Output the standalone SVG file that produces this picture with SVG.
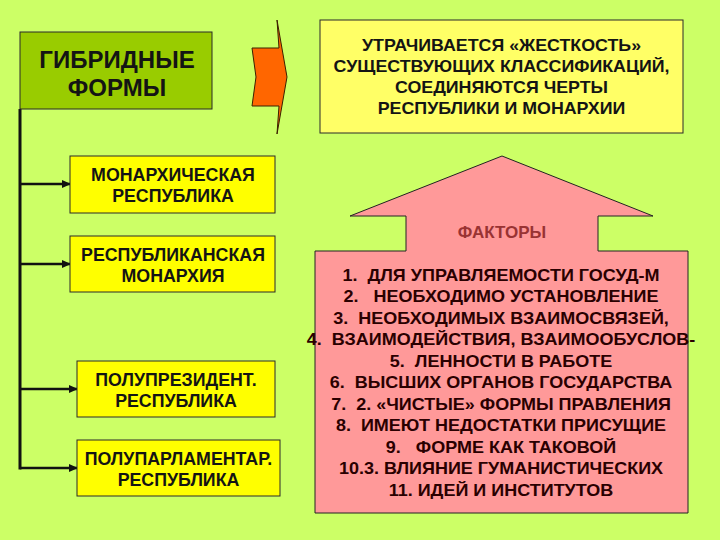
<svg xmlns="http://www.w3.org/2000/svg" width="720" height="540" viewBox="0 0 720 540">
<defs>
<style>
.t{font-family:"Liberation Sans",Arial,sans-serif;font-weight:bold;text-anchor:middle;fill:#141414;white-space:pre}
.box{stroke:#2a2a2a;stroke-width:1}
.con{stroke:#111;stroke-width:3;fill:none}
.f{font-family:"Liberation Sans",Arial,sans-serif;font-weight:bold;text-anchor:middle;fill:#2a0000;font-size:16px;white-space:pre}
</style>
<marker id="ah" markerUnits="userSpaceOnUse" markerWidth="10" markerHeight="8" refX="8" refY="4" orient="auto">
<path d="M0,0 L9,4 L0,8 z" fill="#111"/>
</marker>
</defs>
<rect width="720" height="540" fill="#ccff66"/>

<g id="connectors">
<line class="con" x1="20" y1="109" x2="20" y2="469.5"/>
<line class="con" x1="20" y1="184" x2="70" y2="184" marker-end="url(#ah)" style="stroke-width:2.5"/>
<line class="con" x1="20" y1="264" x2="70" y2="264" marker-end="url(#ah)" style="stroke-width:2.5"/>
<line class="con" x1="20" y1="389" x2="77" y2="389" marker-end="url(#ah)" style="stroke-width:2.5"/>
<line class="con" x1="20" y1="468" x2="77" y2="468" marker-end="url(#ah)" style="stroke-width:2.5"/>
</g>

<g id="hybrid">
<rect class="box" x="20" y="32" width="192" height="77" fill="#99cc00"/>
<text class="t" x="117" y="68" font-size="24">ГИБРИДНЫЕ</text>
<text class="t" x="117" y="96" font-size="24">ФОРМЫ</text>
</g>

<g id="orange-arrow">
<polygon points="252,48 279,48 277,20 287,77 277,134 279,106 252,106 256,77" fill="#ff6600" stroke="#3a2000" stroke-width="1"/>
</g>

<g id="summary">
<rect class="box" x="320" y="20" width="363" height="113" fill="#ffff66"/>
<g transform="translate(501.5,0) scale(1.08,1)">
<text class="t" x="0" y="51" font-size="16.5">УТРАЧИВАЕТСЯ «ЖЕСТКОСТЬ»</text>
<text class="t" x="0" y="72" font-size="16.5">СУЩЕСТВУЮЩИХ КЛАССИФИКАЦИЙ,</text>
<text class="t" x="0" y="93" font-size="16.5">СОЕДИНЯЮТСЯ ЧЕРТЫ</text>
<text class="t" x="0" y="114" font-size="16.5">РЕСПУБЛИКИ И МОНАРХИИ</text>
</g>
</g>

<g id="mon-rep">
<rect class="box" x="70" y="156" width="205" height="57" fill="#ffff00"/>
<text class="t" x="173" y="181" font-size="17.8">МОНАРХИЧЕСКАЯ</text>
<text class="t" x="173" y="202" font-size="17.8">РЕСПУБЛИКА</text>
</g>

<g id="rep-mon">
<rect class="box" x="70" y="236" width="205" height="56" fill="#ffff00"/>
<text class="t" x="173" y="261" font-size="17.8">РЕСПУБЛИКАНСКАЯ</text>
<text class="t" x="173" y="282" font-size="17.8">МОНАРХИЯ</text>
</g>

<g id="semi-pres">
<rect class="box" x="77" y="361" width="198" height="56" fill="#ffff00"/>
<text class="t" x="176" y="386" font-size="17.8">ПОЛУПРЕЗИДЕНТ.</text>
<text class="t" x="176" y="407" font-size="17.8">РЕСПУБЛИКА</text>
</g>

<g id="semi-parl">
<rect class="box" x="77" y="440" width="203" height="56" fill="#ffff00"/>
<text class="t" x="178.5" y="465" font-size="17.8">ПОЛУПАРЛАМЕНТАР.</text>
<text class="t" x="178.5" y="486" font-size="17.8">РЕСПУБЛИКА</text>
</g>

<g id="factors">
<polygon points="502,156 653,216 598,216 598,251 688,251 688,513 315,513 315,251 406,251 406,216 350,216" fill="#ff9999" stroke="#222" stroke-width="1"/>
<text class="t" x="502" y="238" font-size="17" style="fill:#993333">ФАКТОРЫ</text>
<g transform="translate(501,0) scale(1.125,1)">
<text class="f" x="0" y="281">1.  ДЛЯ УПРАВЛЯЕМОСТИ ГОСУД-М</text>
<text class="f" x="0" y="302.5">2.   НЕОБХОДИМО УСТАНОВЛЕНИЕ</text>
<text class="f" x="0" y="324">3.  НЕОБХОДИМЫХ ВЗАИМОСВЯЗЕЙ,</text>
<text class="f" x="0" y="345.5">4.  ВЗАИМОДЕЙСТВИЯ, ВЗАИМООБУСЛОВ-</text>
<text class="f" x="0" y="367">5.  ЛЕННОСТИ В РАБОТЕ</text>
<text class="f" x="0" y="388.5">6.  ВЫСШИХ ОРГАНОВ ГОСУДАРСТВА</text>
<text class="f" x="0" y="410">7.  2. «ЧИСТЫЕ» ФОРМЫ ПРАВЛЕНИЯ</text>
<text class="f" x="0" y="431.5">8.  ИМЕЮТ НЕДОСТАТКИ ПРИСУЩИЕ</text>
<text class="f" x="0" y="453">9.   ФОРМЕ КАК ТАКОВОЙ</text>
<text class="f" x="0" y="474.5">10.3. ВЛИЯНИЕ ГУМАНИСТИЧЕСКИХ</text>
<text class="f" x="0" y="496">11. ИДЕЙ И ИНСТИТУТОВ</text>
</g>
</g>
</svg>
